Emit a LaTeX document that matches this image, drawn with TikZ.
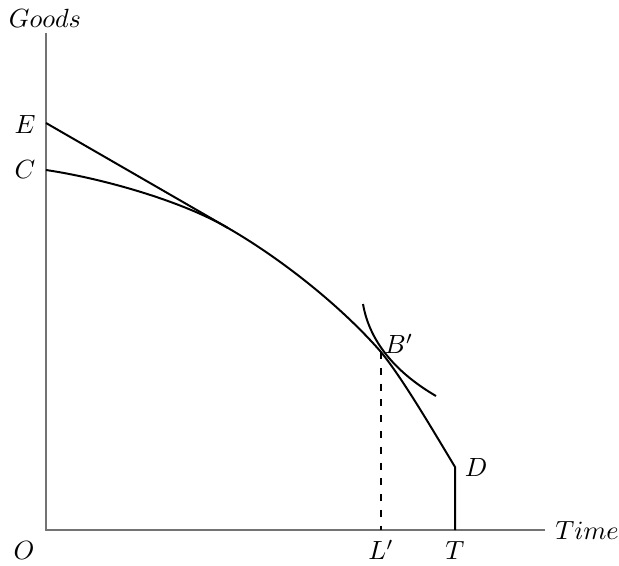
\documentclass[tikz,border=0pt]{standalone}
\begin{document}
\begin{tikzpicture}[x=0.38pt,y=-0.38pt,
  axis/.style={draw=black!55,line width=0.4pt},
  curve/.style={draw=black,line width=0.75pt},
  lbl/.style={inner sep=1pt}]
\useasboundingbox (0,0) rectangle (619,565);
% axis points
\coordinate (O) at (46,530);
\coordinate (Ytop) at (46,33);
\coordinate (Xend) at (545,530);
\coordinate (E) at (46,123);
\coordinate (C) at (46,170);
\coordinate (P) at (228,228);
\coordinate (B) at (381,352);
\coordinate (D) at (455,467);
\coordinate (T) at (455,530);
\coordinate (L) at (381,530);
\coordinate (I1) at (363,304);
\coordinate (I2) at (436,396);
% axes
\draw[axis] (Ytop) -- (O) -- (Xend);
% dashed
\draw[black,line width=0.4pt,dash pattern=on 2.7pt off 3.3pt] (B) -- (L);
% tangent line
\draw[curve] (E) -- (P);
% frontier
\draw[curve] (C) .. controls (100,178) and (180,200) .. (P)
  .. controls (280,258) and (340,305) .. (B)
  .. controls (402,378) and (428,422) .. (D) -- (T);
% indifference curve
\draw[curve] (I1) .. controls (370,345) and (400,375) .. (I2);
% labels
\node[lbl] (goods) at (45,18) {$Goods$};
\node[lbl] (time) at (587,530) {$Time$};
\node[lbl] (oL) at (24,550) {$O$};
\node[lbl] (eL) at (25,125) {$E$};
\node[lbl] (cL) at (25,170) {$C$};
\node[lbl] (dL) at (476,467) {$D$};
\node[lbl] (tL) at (455,550) {$T$};
\node[lbl] (lL) at (381,550) {$L'$};
\node[lbl] (bL) at (399,344) {$B'$};
\end{tikzpicture}
\end{document}
